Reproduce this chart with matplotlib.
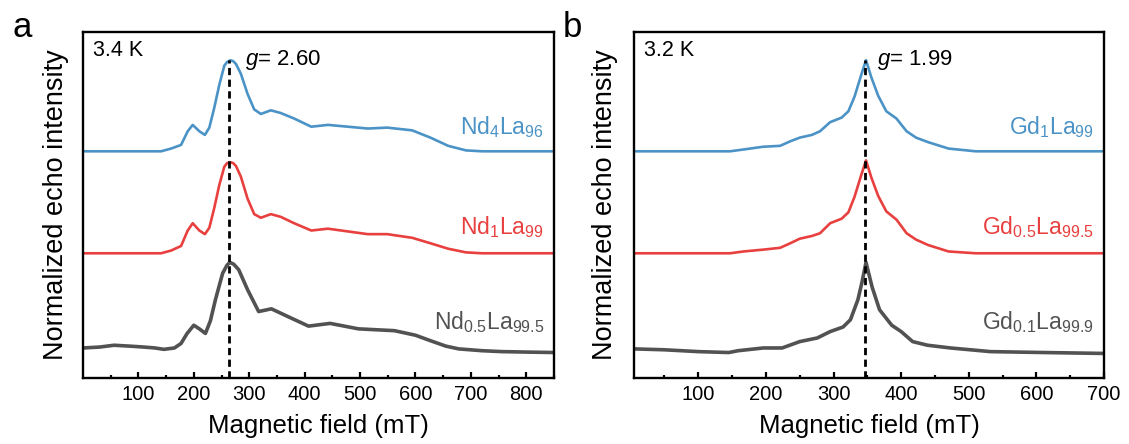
import matplotlib
matplotlib.use("Agg")
import matplotlib.pyplot as plt

# Fonts: Liberation Sans is the Arial stand-in
plt.rcParams['font.family'] = ['Liberation Sans', 'DejaVu Sans']
plt.rcParams['mathtext.fontset'] = 'custom'
plt.rcParams['mathtext.rm'] = 'Liberation Sans'
plt.rcParams['mathtext.it'] = 'Liberation Sans:italic'

# ---- panel a: Nd doped, 3.4 K (field in mT, normalized echo intensity) ----
field_nd4 = [0, 50, 100, 141, 159, 177, 189, 198, 210, 220, 228, 237, 246, 255, 260, 266, 271,
             276, 285, 297, 309, 321, 339, 357, 381, 412, 442, 478, 514, 549, 594, 627, 659,
             691, 720, 850]
int_nd4 = [0, 0, 0, 0, 0.03, 0.07, 0.22, 0.29, 0.22, 0.18, 0.26, 0.48, 0.73, 0.94, 0.98, 1.0, 0.99,
           0.96, 0.85, 0.63, 0.46, 0.41, 0.45, 0.42, 0.36, 0.27, 0.29, 0.27, 0.25, 0.26, 0.23, 0.15,
           0.06, 0.01, 0, 0]

field_nd1 = field_nd4
int_nd1 = [0, 0, 0, 0, 0.03, 0.08, 0.25, 0.33, 0.25, 0.21, 0.28, 0.50, 0.75, 0.95, 0.99, 1.0, 0.99,
           0.96, 0.84, 0.60, 0.43, 0.39, 0.43, 0.40, 0.33, 0.25, 0.27, 0.24, 0.21, 0.21, 0.17, 0.11,
           0.05, 0.01, 0, 0]

field_nd05 = [0, 30, 56, 85, 110, 130, 146, 165, 177, 188, 200, 210, 221, 230, 239, 252, 260, 265,
              272, 281, 297, 317, 340, 368, 407, 446, 497, 562, 600, 627, 655, 678, 720, 756, 800, 850]
int_nd05 = [0, 0.01, 0.03, 0.02, 0.01, 0.0, -0.015, 0.0, 0.05, 0.16, 0.25, 0.21, 0.16, 0.30, 0.53,
            0.82, 0.91, 0.94, 0.92, 0.86, 0.64, 0.40, 0.43, 0.35, 0.24, 0.27, 0.21, 0.19, 0.14, 0.08,
            0.02, -0.01, -0.03, -0.04, -0.045, -0.05]

# ---- panel b: Gd doped, 3.2 K ----
field_gd1 = [0, 100, 147, 167, 196, 221, 236, 250, 268, 280, 295, 312, 322, 331, 341, 348, 356,
             366, 378, 393, 408, 422, 440, 470, 510, 700]
int_gd1 = [0, 0, 0, 0.02, 0.05, 0.06, 0.11, 0.15, 0.18, 0.22, 0.32, 0.37, 0.44, 0.60, 0.84, 1.0,
           0.81, 0.61, 0.44, 0.36, 0.22, 0.15, 0.10, 0.03, 0, 0]

field_gd05 = field_gd1
int_gd05 = [0, 0, 0, 0.02, 0.04, 0.06, 0.11, 0.16, 0.19, 0.22, 0.33, 0.38, 0.45, 0.62, 0.86, 1.02,
            0.83, 0.63, 0.46, 0.37, 0.22, 0.15, 0.09, 0.02, 0, 0]

field_gd01 = [5, 50, 100, 145, 159, 196, 224, 250, 276, 295, 314, 325, 336, 342, 348, 352, 357,
              368, 386, 400, 417, 439, 473, 532, 611, 700]
int_gd01 = [-0.01, -0.02, -0.04, -0.05, -0.03, 0.0, 0.0, 0.07, 0.11, 0.18, 0.23, 0.31, 0.53, 0.72,
            0.94, 0.82, 0.67, 0.42, 0.25, 0.18, 0.07, 0.03, 0.0, -0.04, -0.05, -0.06]

# vertical stacking offsets (bottom, middle, top)
offsets = [0.0, 1.04, 2.16]
ylims = (-0.33, 3.47)

g_field_a, g_text_a = 264, r'$g$= 2.60'
g_field_b, g_text_b = 347, r'$g$= 1.99'

c_blue = '#4b93c6'
c_red = '#e8403f'
c_gray = '#525252'

fig = plt.figure(figsize=(11.29, 4.44), dpi=100)
ax_a = fig.add_axes([0.0735, 0.1486, 0.4172, 0.7793])
ax_b = fig.add_axes([0.5616, 0.1486, 0.4163, 0.7793])


def draw_panel(ax, curves, labels, xmax, xmin, temp, g_field, g_text, g_x):
    colors = [c_gray, c_red, c_blue]
    widths = [2.6, 1.9, 1.9]
    for (fx, fy), off, col, lw in zip(curves, offsets, colors, widths):
        ax.plot(fx, [v + off for v in fy], color=col, lw=lw, solid_joinstyle='round')

    # dashed marker at the g value, up to the top peak
    top_peak = offsets[2] + max(curves[2][1])
    ax.plot([g_field, g_field], [ylims[0], top_peak], color='black', lw=2,
            linestyle=(0, (2.6, 1.6)))

    ax.set_xlim(xmin, xmax)
    ax.set_ylim(*ylims)
    ax.set_xticks(range(100, xmax + 1, 100))
    ax.set_xticks(range(50, xmax + 1, 100), minor=True)
    ax.set_yticks([])
    ax.tick_params(axis='x', which='major', direction='in', length=4.3, width=1.6,
                   labelsize=14.5, pad=5)
    ax.tick_params(axis='x', which='minor', direction='in', length=2.3, width=1.6)
    for sp in ax.spines.values():
        sp.set_linewidth(1.7)

    ax.set_xlabel('Magnetic field (mT)', fontsize=18.5)
    ax.xaxis.label.set_va('baseline')
    ax.xaxis.set_label_coords(0.5, -0.159)
    ax.set_ylabel('Normalized echo intensity', fontsize=19.5)
    ax.yaxis.label.set_va('baseline')

    ax.text(0.021, 0.948, temp, transform=ax.transAxes, fontsize=15.5, va='center', ha='left')
    ax.text(g_x, 0.919, g_text, transform=ax.transAxes, fontsize=16, va='center', ha='left')

    label_y = [0.142, 0.416, 0.705]
    for lab, ly, col in zip(labels, label_y, colors):
        ax.text(0.979, ly, lab, transform=ax.transAxes, fontsize=16.5, color=col,
                ha='right', va='baseline')


draw_panel(ax_a,
           [(field_nd05, int_nd05), (field_nd1, int_nd1), (field_nd4, int_nd4)],
           [r'Nd$_{0.5}$La$_{99.5}$', r'Nd$_{1}$La$_{99}$', r'Nd$_{4}$La$_{96}$'],
           850, 0, '3.4 K', g_field_a, g_text_a, 0.344)
ax_a.yaxis.set_label_coords(-0.042, 0.5)

draw_panel(ax_b,
           [(field_gd01, int_gd01), (field_gd05, int_gd05), (field_gd1, int_gd1)],
           [r'Gd$_{0.1}$La$_{99.9}$', r'Gd$_{0.5}$La$_{99.5}$', r'Gd$_{1}$La$_{99}$'],
           700, 5, '3.2 K', g_field_b, g_text_b, 0.517)
ax_b.yaxis.set_label_coords(-0.047, 0.5)

# panel letters
fig.text(13 / 1129, 1 - 37 / 444, 'a', fontsize=25, ha='left', va='baseline')
fig.text(563 / 1129, 1 - 37 / 444, 'b', fontsize=25, ha='left', va='baseline')

fig.savefig('out.png', dpi=100)
